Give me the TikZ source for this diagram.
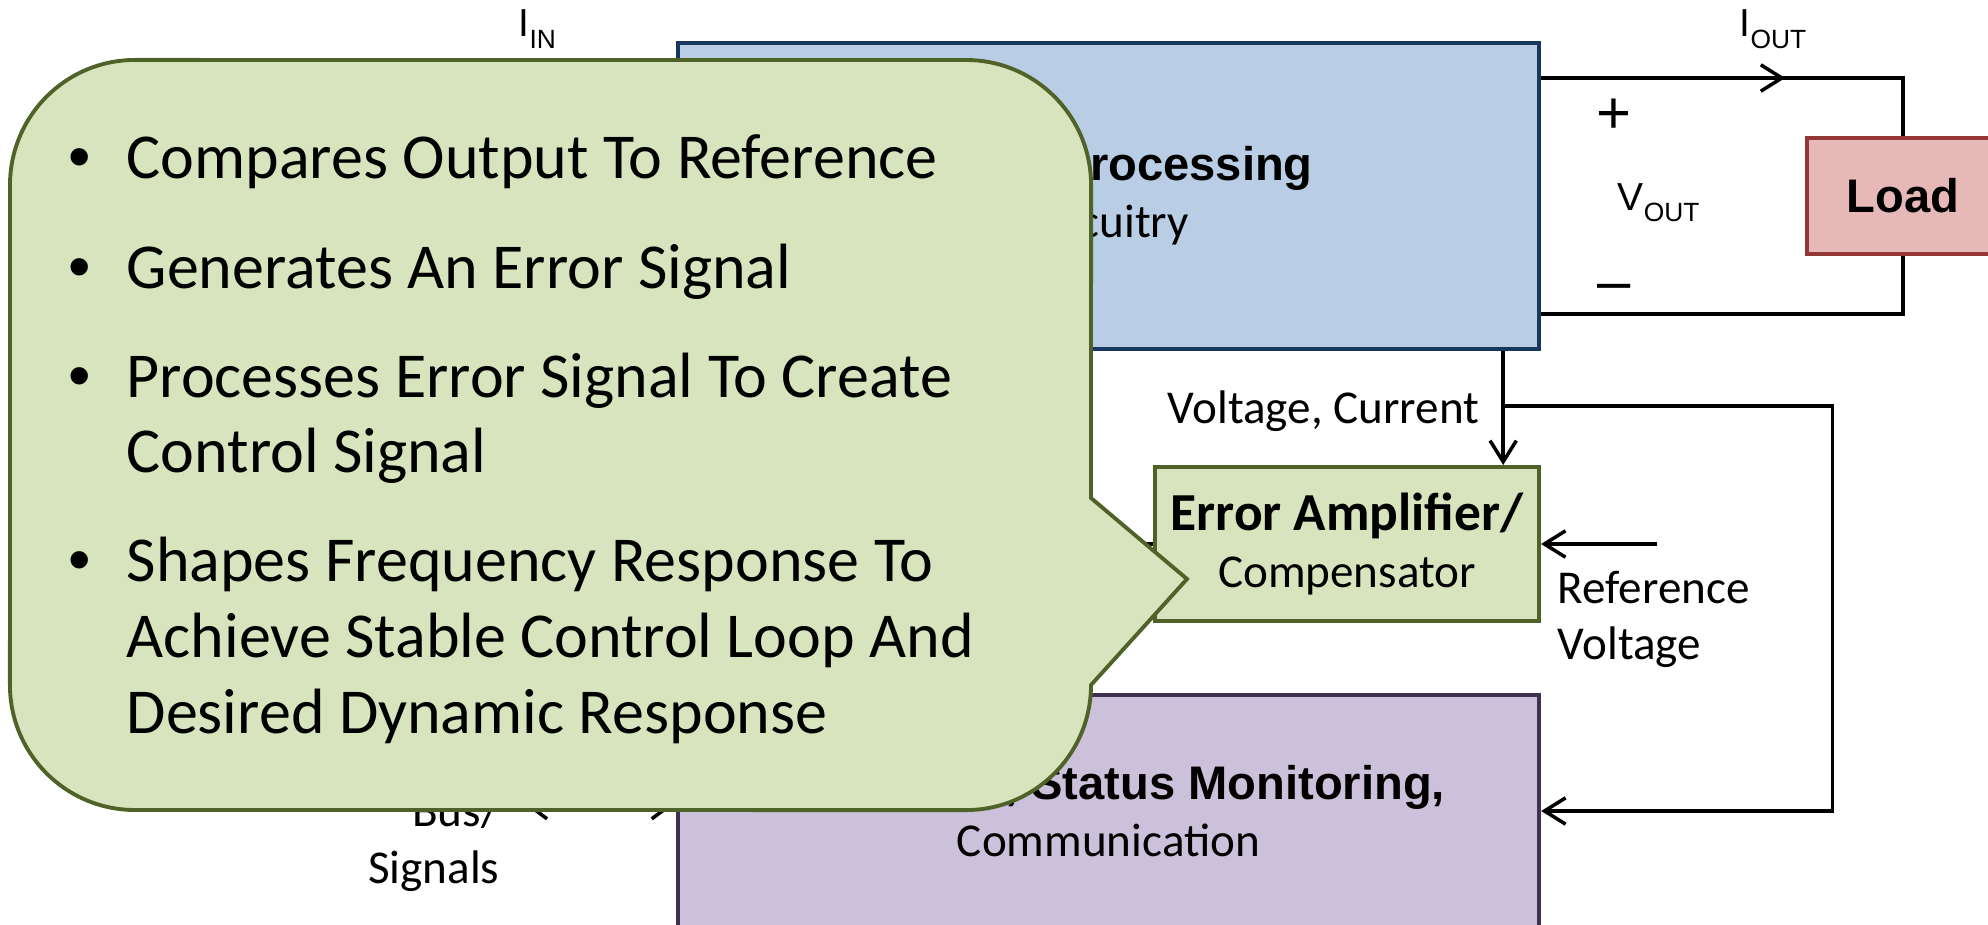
\documentclass[tikz,border=0pt]{standalone}
\usepackage{fontspec}
\setmainfont{Carlito}
\newfontfamily\arial{Liberation Sans}
\usetikzlibrary{positioning,arrows.meta}
\definecolor{pwrfill}{HTML}{B9CDE5}
\definecolor{pwrline}{HTML}{17375E}
\definecolor{loadfill}{HTML}{E6B9B8}
\definecolor{loadline}{HTML}{953735}
\definecolor{ampfill}{HTML}{D7E4BD}
\definecolor{ampline}{HTML}{4F6228}
\definecolor{monfill}{HTML}{CCC1DA}
\definecolor{monline}{HTML}{403152}
\tikzset{
  block/.style={draw, line width=1.1pt, align=center, inner sep=0pt, font=\fontsize{13.4}{16.2}\selectfont},
  wire/.style={line width=1pt},
  arr/.style={-{Straight Barb[length=6pt,width=7.5pt]}},
  lbl/.style={font=\fontsize{13.4}{16.2}\selectfont, inner sep=0pt},
  sym/.style={font=\arial\fontsize{11.1}{13}\selectfont, inner sep=0pt, anchor=base west},
  note/.style={font=\fontsize{18.2}{21.6}\selectfont, inner sep=0pt, anchor=base west},
}
\newcommand{\sub}[1]{\raisebox{-3.4pt}{\fontsize{7.5}{9}\selectfont #1}}

\begin{document}
\begin{tikzpicture}[x=0.01cm, y=-0.01cm]
\useasboundingbox (0,0) rectangle (1988,924);
\clip (0,0) rectangle (1988,924);

% Blocks
\node[block, fill=pwrfill, draw=pwrline, minimum width=8.61cm, minimum height=3.06cm] (power) at (1108.5,196) {{\arial\bfseries Power Processing}\\Circuitry};
\node[block, fill=loadfill, draw=loadline, minimum width=1.92cm, minimum height=1.16cm] (load) at (1903,196) {\arial\bfseries Load};
\node[block, fill=ampfill, draw=ampline, minimum width=3.84cm, minimum height=1.54cm] (amp) at (1347,544) {{\fontsize{15.2}{16.2}\selectfont\bfseries Error Amplifier/}\\Compensator};
\node[block, fill=monfill, draw=monline, minimum width=8.61cm, minimum height=2.32cm] (monitor) at (1108.5,811) {{\arial\bfseries Protection, Status Monitoring,}\\Communication};

% Output side
\coordinate (vop) at ([yshift=-0.37cm]power.north east);
\coordinate (von) at ([yshift=0.37cm]power.south east);
\draw[wire] (vop) -| (load.north);
\draw[wire] (von) -| (load.south);
\draw[wire,arr] (vop) -- ++(244,0);
\node[sym] (iin) at (518,37) {I\sub{IN}};
\node[sym] (iout) at (1739,37) {I\sub{OUT}};
\node[sym] (vout) at (1617,210) {V\sub{OUT}};
\node[sym, font=\arial\fontsize{17}{20}\selectfont] (plus) at (1596,133) {+};
\node[sym, font=\arial\fontsize{17}{20}\selectfont] (minus) at (1597,301) {\textendash};

% Feedback path
\coordinate (sense) at ([xshift=-0.38cm]power.south east);
\coordinate (tap) at ([yshift=-0.55cm]sense);
\coordinate (fbk) at ([xshift=3.29cm]tap);
\draw[wire,arr] (sense) -- (sense |- amp.north);
\draw[wire,arr] (tap) -- (fbk) |- (monitor.east);
\node[lbl, anchor=base east] (vsense) at (1480,423) {Voltage, Current};
\coordinate (vref) at ([xshift=1.16cm]amp.east);
\draw[wire,arr] (vref) -- (amp.east);
\node[lbl, align=left, anchor=north west] (reflbl) at (1557,570) {Reference\\Voltage};
\draw[wire] (amp.west) -- ++(-150,0);

% Bus
\coordinate (bus) at (523,803);
\draw[wire,{Straight Barb[length=6pt,width=9pt]}-{Straight Barb[length=6pt,width=9pt]}] (bus) -- (bus -| monitor.west);
\node[lbl, align=right, anchor=north east] (buslbl) at (500,793) {Bus/\\Signals};

% Callout
\draw[fill=ampfill, draw=ampline, line width=1.1pt] (10,185) arc[start angle=180, end angle=90, radius=1.25cm]
  -- (966,60) arc[start angle=90, end angle=0, radius=1.25cm]
  -- (1091,498) -- (1187,579) -- (1091,685)
  arc[start angle=0, end angle=-90, radius=1.25cm]
  -- (135,810) arc[start angle=270, end angle=180, radius=1.25cm] -- cycle;
\foreach \y [count=\i] in {178,288,397,581}
  \node[note] (dot\i) at (68,\y) {\arial\textbullet};
\foreach \y/\txt [count=\i] in {178/Compares Output To Reference, 288/Generates An Error Signal,
    397/Processes Error Signal To Create, 472/Control Signal, 581/Shapes Frequency Response To,
    657/Achieve Stable Control Loop And, 733/Desired Dynamic Response}
  \node[note] (line\i) at (126,\y) {\txt};
\end{tikzpicture}
\end{document}
